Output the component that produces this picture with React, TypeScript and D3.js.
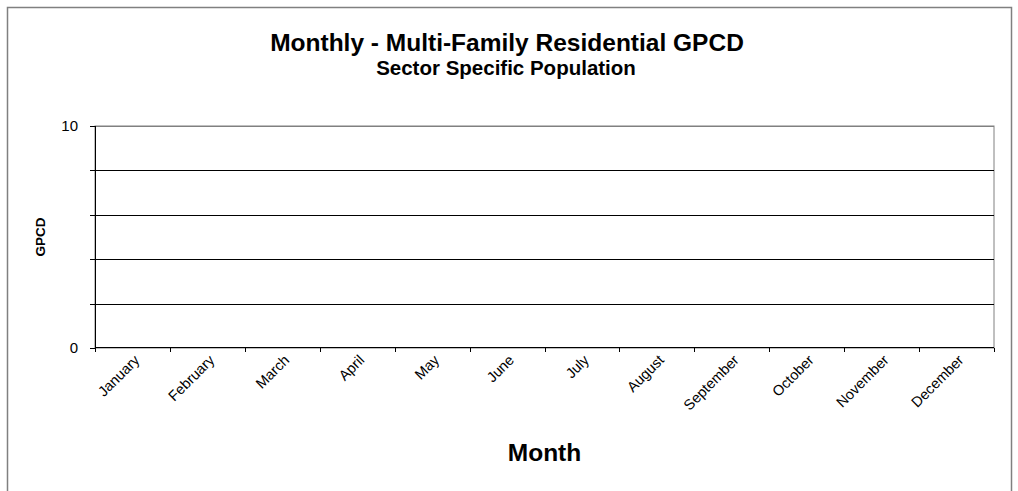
import React from "react";
import * as d3 from "d3";

const months = ["January","February","March","April","May","June","July","August","September","October","November","December"];
const gpcdValues: (number | null)[] = [null,null,null,null,null,null,null,null,null,null,null,null];
const yTicks = [0, 2, 4, 6, 8, 10];
const yTickLabels = ["0", "", "", "", "", "10"];
const title = "Monthly - Multi-Family Residential GPCD";
const subtitle = "Sector Specific Population";
const xTitle = "Month";
const yTitle = "GPCD";

export default function App() {
  const W = 1018, H = 491;
  const left = 95, right = 994, top = 126, bottom = 348;
  const x = d3.scaleBand().domain(months).range([left, right]).padding(0);
  const y = d3.scaleLinear().domain([0, 10]).range([bottom, top]);
  const font = "Arial, 'Liberation Sans', sans-serif";
  const bounds = months.map((m) => x(m)!).concat([right]);
  const line = d3.line<number | null>()
    .defined((d) => d != null)
    .x((_, i) => x(months[i])! + x.bandwidth() / 2)
    .y((d) => y(d as number));
  return (
    <svg width={W} height={H} style={{ position: "absolute", left: 0, top: 0, fontFamily: font }}>
      <rect x={0} y={0} width={W} height={H} fill="#fff" />
      <rect x={7.5} y={7.5} width={1004} height={490} fill="none" stroke="#808080" strokeWidth={1.5} />
      <text x={507} y={51} textAnchor="middle" fontSize={24.5} fontWeight="bold">{title}</text>
      <text x={506} y={75} textAnchor="middle" fontSize={20.5} fontWeight="bold">{subtitle}</text>
      <rect x={left} y={top} width={right - left} height={bottom - top} fill="none" stroke="#808080" strokeWidth={1} />
      {yTicks.filter((t) => t > 0).map((t) => (
        <line key={t} x1={left} x2={right} y1={Math.round(y(t)) + 0.5} y2={Math.round(y(t)) + 0.5} stroke={t === 10 ? "#808080" : "#000"} strokeWidth={1} />
      ))}
      <line x1={left + 0.5} x2={left + 0.5} y1={top} y2={bottom} stroke="#000" />
      <line x1={left} x2={right} y1={bottom - 0.5} y2={bottom - 0.5} stroke="#000" />
      {yTicks.map((t, i) => (
        <g key={t}>
          <line x1={left - 5} x2={left} y1={Math.round(y(t)) + 0.5} y2={Math.round(y(t)) + 0.5} stroke="#000" />
          {yTickLabels[i] && (
            <text x={left - 17} y={y(t) + 5} textAnchor="end" fontSize={15}>{yTickLabels[i]}</text>
          )}
        </g>
      ))}
      {bounds.map((b, i) => (
        <line key={i} x1={Math.round(b) + 0.5} x2={Math.round(b) + 0.5} y1={bottom} y2={bottom + 4} stroke="#000" />
      ))}
      {months.map((m) => {
        const cx = x(m)! + x.bandwidth() / 2 + 8;
        const cy = bottom + 13;
        return (
          <text key={m} x={cx} y={cy} textAnchor="end" fontSize={14.5} transform={`rotate(-45 ${cx} ${cy})`}>{m}</text>
        );
      })}
      <path d={line(gpcdValues) || ""} fill="none" stroke="#000080" />
      <text x={(left + right) / 2} y={461} textAnchor="middle" fontSize={24.5} fontWeight="bold">{xTitle}</text>
      <text x={0} y={0} textAnchor="middle" fontSize={13.5} fontWeight="bold" transform={`translate(45 ${(top + bottom) / 2}) rotate(-90)`}>{yTitle}</text>
    </svg>
  );
}
